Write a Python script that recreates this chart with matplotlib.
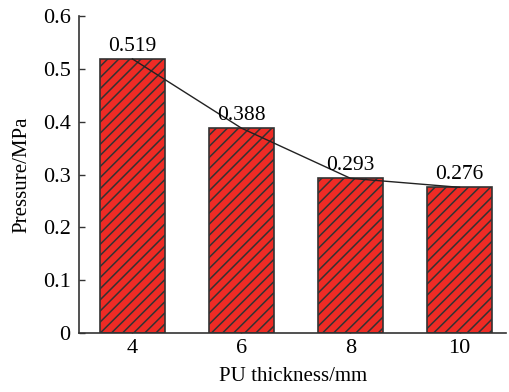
import numpy as np
import matplotlib.pyplot as plt

thickness = ['4', '6', '8', '10']
pressure = [0.519, 0.388, 0.293, 0.276]
yticks = [0, 0.1, 0.2, 0.3, 0.4, 0.5, 0.6]

plt.rcParams['font.family'] = 'Liberation Serif'
plt.rcParams['font.size'] = 16
plt.rcParams['hatch.linewidth'] = 1.1
plt.rcParams['hatch.color'] = '#222222'

fig = plt.figure(figsize=(5.09, 3.92), dpi=100)
ax = fig.add_axes([0.155, 0.15, 0.84, 0.809])
x = np.arange(len(thickness))
ax.bar(x, pressure, width=0.6, color='#EE2B25', edgecolor='#333333',
       linewidth=1.2, hatch='///', zorder=2)
ax.plot(x, pressure, color='#222222', linewidth=1.0, zorder=3)
for xi, p in zip(x, pressure):
    ax.text(xi, p + 0.006, '%.3f' % p, ha='center', va='bottom', fontsize=15.5)

ax.set_xlim(-0.49, 3.43)
ax.set_ylim(0, 0.6)
ax.set_xticks(x)
ax.set_xticklabels(thickness)
ax.set_yticks(yticks)
ax.set_yticklabels(['0', '0.1', '0.2', '0.3', '0.4', '0.5', '0.6'])
ax.tick_params(direction='in', length=4, width=1, colors='#333333',
               labelcolor='black', labelsize=16)
ax.tick_params(axis='y', pad=6)
ax.tick_params(axis='x', pad=4)
ax.spines['top'].set_visible(False)
ax.spines['right'].set_visible(False)
for s in ['left', 'bottom']:
    ax.spines[s].set_color('#333333')
    ax.spines[s].set_linewidth(1.2)
ax.set_xlabel('PU thickness/mm', fontsize=15, labelpad=7)
ax.set_ylabel('Pressure/MPa', fontsize=15, labelpad=8)

plt.savefig('out.png', dpi=100)
